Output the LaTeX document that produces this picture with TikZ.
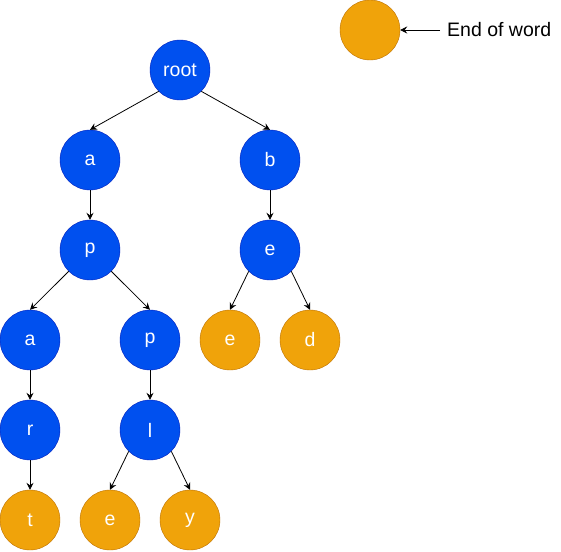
\documentclass[tikz,border=0pt]{standalone}
\usepackage{fontspec}
\setmainfont{Liberation Sans}
\usetikzlibrary{arrows.meta}
\definecolor{nodeblue}{HTML}{0050EF}
\definecolor{nodeblueline}{HTML}{001DBC}
\definecolor{nodeorange}{HTML}{F0A30A}
\definecolor{nodeorangeline}{HTML}{BD7000}
\begin{document}
\begin{tikzpicture}[x=1pt, y=-1pt,
    letter/.style={draw=nodeblueline, shape=circle, fill=nodeblue, text=white,
    inner sep=0, minimum size=60pt, font=\fontsize{19.5}{22}\selectfont},
    wordend/.style={letter, draw=nodeorangeline, fill=nodeorange},
    edge/.style={-{Stealth[length=7pt, width=7pt, inset=2.5pt]}, line width=0.8pt}]

    \useasboundingbox (0, 0) rectangle (561, 551);

    % Legend
    \node[wordend] (L) at (370, 30) {};
    \node[anchor=west, inner sep=0, font=\fontsize{19.5}{22}\selectfont]
    (Ltext) at (447, 30) {End of word};

    % Level 0 and 1
    \node[letter] (root) at (180, 70) {root};
    \node[letter] (a1) at (90, 160) {a};
    \node[letter] (b1) at (270, 160) {b};

    % Level 2
    \node[letter] (p2) at (90, 250) {p};
    \node[letter] (e2) at (270, 250) {e};

    % Level 3
    \node[letter] (a3) at (30, 340) {a};
    \node[letter] (p3) at (150, 340) {p};
    \node[wordend] (e3) at (230, 340) {e};
    \node[wordend] (d3) at (310, 340) {d};

    % Level 4
    \node[letter] (r4) at (30, 430) {r};
    \node[letter] (l4) at (150, 430) {l};

    % Level 5
    \node[wordend] (t5) at (30, 520) {t};
    \node[wordend] (e5) at (110, 520) {e};
    \node[wordend] (y5) at (190, 520) {y};

    \draw[edge] (Ltext.west) ++(-7, 0) coordinate (Lstart) -- (L.east);
    \draw[edge] (root.south west) -- (a1.north);
    \draw[edge] (root.south east) -- (b1.north);
    \draw[edge] (a1.south) -- (p2.north);
    \draw[edge] (b1.south) -- (e2.north);
    \draw[edge] (p2.south west) -- (a3.north);
    \draw[edge] (p2.south east) -- (p3.north);
    \draw[edge] (e2.south west) -- (e3.north);
    \draw[edge] (e2.south east) -- (d3.north);
    \draw[edge] (a3.south) -- (r4.north);
    \draw[edge] (p3.south) -- (l4.north);
    \draw[edge] (r4.south) -- (t5.north);
    \draw[edge] (l4.south west) -- (e5.north);
    \draw[edge] (l4.south east) -- (y5.north);

\end{tikzpicture}
\end{document}
